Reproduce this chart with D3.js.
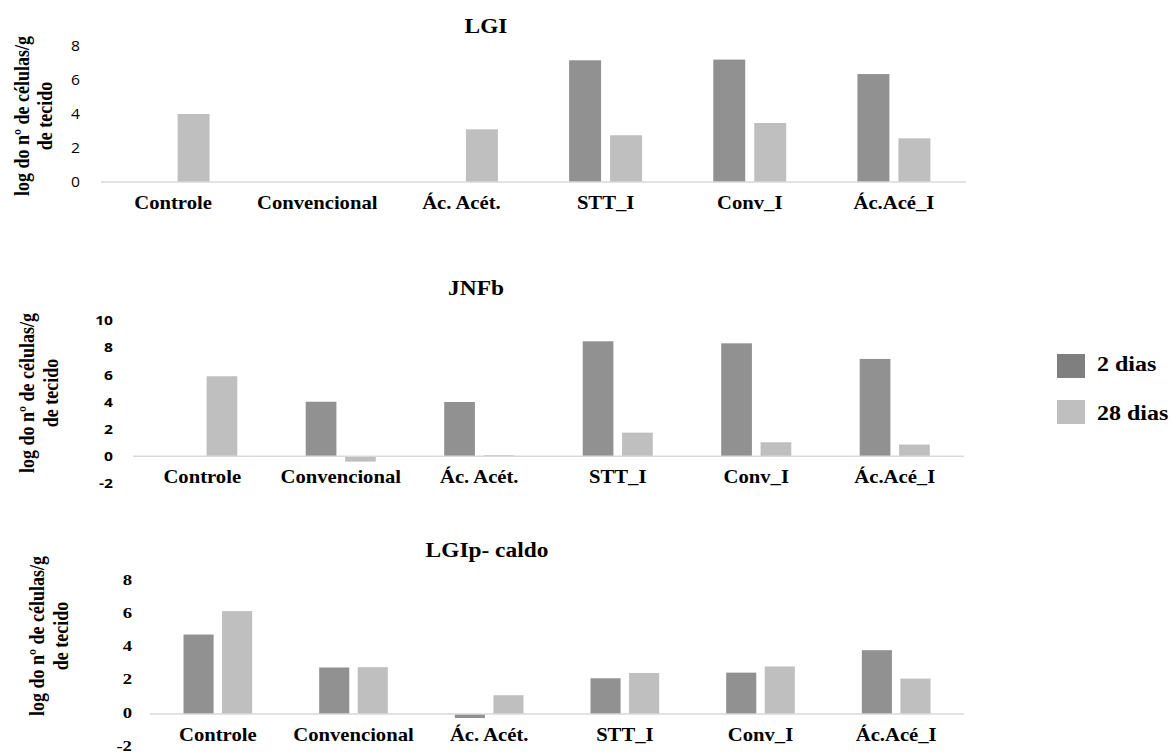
<!DOCTYPE html>
<html>
<head>
<meta charset="utf-8">
<script src="https://cdn.jsdelivr.net/npm/d3@7/dist/d3.min.js"></script>
<style>
  html, body { margin: 0; padding: 0; background: #ffffff; }
  svg { display: block; }
</style>
</head>
<body>
<svg id="chart" width="1171" height="754"></svg>
<script>
// Categories and series shared by the three panels
const categories = ["Controle", "Convencional", "Ác. Acét.", "STT_I", "Conv_I", "Ác.Acé_I"];
const seriesNames = ["2 dias", "28 dias"];

// LGI (log do nº de células/g de tecido)
const lgi2dias  = [null, null, null, 7.16, 7.2, 6.35];
const lgi28dias = [4.0, null, 3.1, 2.75, 3.47, 2.57];
const lgiTicks  = [0, 2, 4, 6, 8];

// JNFb
const jnfb2dias  = [null, 4.02, 4.0, 8.48, 8.33, 7.18];
const jnfb28dias = [5.9, -0.4, 0.08, 1.74, 1.03, 0.86];
const jnfbTicks  = [-2, 0, 2, 4, 6, 8, 10];

// LGIp- caldo
const caldo2dias  = [4.78, 2.8, -0.24, 2.15, 2.49, 3.84];
const caldo28dias = [6.19, 2.82, 1.13, 2.47, 2.86, 2.13];
const caldoTicks  = [-2, 0, 2, 4, 6, 8];

const seriesColor = { "2 dias": "#919191", "28 dias": "#bfbfbf" };
const legendColor = { "2 dias": "#7f7f7f", "28 dias": "#bfbfbf" };
const SERIF = "'Liberation Serif', 'Times New Roman', serif";
const SANS = "'Open Sans', 'Noto Sans', sans-serif";

const svg = d3.select("#chart");

// Panel layout
const panels = [
  {
    title: "LGI", s2: lgi2dias, s28: lgi28dias, ticks: lgiTicks,
    xRange: [101, 966], yDomain: [0, 8], yRange: [182, 46],
    titlePos: [486, 33], catY: 209, tickRight: 80,
    tickFont: { family: SANS, size: 14, weight: "normal", sx: 1.12, dy: "0.32em" },
    yTitle: { x1: 29, x2: 52, cy: 116 }
  },
  {
    title: "JNFb", s2: jnfb2dias, s28: jnfb28dias, ticks: jnfbTicks,
    xRange: [133, 964], yDomain: [-2, 10], yRange: [483.3, 320.7],
    titlePos: [476, 295], catY: 483, tickRight: 113,
    tickFont: { family: SANS, size: 13, weight: "bold", sx: 1.2, dy: "0.32em" },
    yTitle: { x1: 34, x2: 58, cy: 393 }
  },
  {
    title: "LGIp- caldo", s2: caldo2dias, s28: caldo28dias, ticks: caldoTicks,
    xRange: [150, 964], yDomain: [-2, 8], yRange: [747.3, 581],
    titlePos: [487, 557], catY: 741, tickRight: 132,
    tickFont: { family: SERIF, size: 15, weight: "bold", sx: 1.25, dy: "0.2em" },
    yTitle: { x1: 44, x2: 68, cy: 636 }
  }
];

function stretchedText(parent, x, y, txt, sx, opts) {
  return parent.append("text")
    .attr("transform", `translate(${x},${y}) scale(${sx},1)`)
    .attr("text-anchor", opts.anchor || "middle")
    .attr("font-family", opts.family || SERIF)
    .attr("font-weight", opts.weight || "bold")
    .attr("font-size", opts.size)
    .attr("fill", opts.fill || "#000")
    .text(txt);
}

panels.forEach(p => {
  const g = svg.append("g");
  const data = categories.map((c, i) => ({
    cat: c,
    values: [
      { key: "2 dias", v: p.s2[i] },
      { key: "28 dias", v: p.s28[i] }
    ]
  }));

  const x0 = d3.scaleBand().domain(categories).range(p.xRange)
    .paddingInner(0.494).paddingOuter(0.247);
  const x1 = d3.scaleBand().domain(seriesNames).range([0, x0.bandwidth()])
    .paddingInner(0.22);
  const y = d3.scaleLinear().domain(p.yDomain).range(p.yRange);

  // y tick labels (plain hyphen for negatives)
  const yAxis = d3.axisLeft(y).tickValues(p.ticks).tickSize(0).tickPadding(0)
    .tickFormat(d => String(d));
  const ay = g.append("g").attr("transform", `translate(${p.tickRight},0)`).call(yAxis);
  ay.select(".domain").remove();
  ay.selectAll("text")
    .attr("x", 0)
    .attr("dy", p.tickFont.dy)
    .attr("transform", `scale(${p.tickFont.sx},1)`)
    .attr("font-family", p.tickFont.family)
    .attr("font-size", p.tickFont.size)
    .attr("font-weight", p.tickFont.weight)
    .attr("fill", "#000");

  // bars
  const groups = g.selectAll(".grp").data(data).join("g")
    .attr("transform", d => `translate(${x0(d.cat)},0)`);
  groups.selectAll("rect")
    .data(d => d.values.filter(v => v.v !== null))
    .join("rect")
    .attr("x", d => x1(d.key))
    .attr("width", x1.bandwidth())
    .attr("y", d => y(Math.max(0, d.v)))
    .attr("height", d => Math.abs(y(d.v) - y(0)))
    .attr("fill", d => seriesColor[d.key]);

  // category axis line at zero
  g.append("line")
    .attr("x1", p.xRange[0]).attr("x2", p.xRange[1])
    .attr("y1", y(0)).attr("y2", y(0))
    .attr("stroke", "#d9d9d9").attr("stroke-width", 1.5);

  // category labels
  categories.forEach(c => {
    stretchedText(g, x0(c) + x0.bandwidth() / 2, p.catY, c, 1.06, { size: 19.5 });
  });

  // panel title
  stretchedText(g, p.titlePos[0], p.titlePos[1], p.title, 1.17, { size: 20 });

  // rotated y-axis title
  [["log do nº de células/g", p.yTitle.x1], ["de tecido", p.yTitle.x2]].forEach(([txt, bx]) => {
    g.append("text")
      .attr("transform", `translate(${bx},${p.yTitle.cy}) scale(1.15,1) rotate(-90)`)
      .attr("text-anchor", "middle")
      .attr("font-family", SERIF)
      .attr("font-weight", "bold")
      .attr("font-size", 18)
      .attr("fill", "#000")
      .text(txt);
  });
});

// legend
const legend = svg.append("g");
const legendRows = [
  { key: "2 dias", y: 354, ty: 371 },
  { key: "28 dias", y: 400, ty: 420 }
];
legendRows.forEach(r => {
  legend.append("rect")
    .attr("x", 1057).attr("y", r.y).attr("width", 28).attr("height", 24)
    .attr("fill", legendColor[r.key]);
  stretchedText(legend, 1097, r.ty, r.key, 1.2, { size: 20, anchor: "start" });
});
</script>
</body>
</html>
